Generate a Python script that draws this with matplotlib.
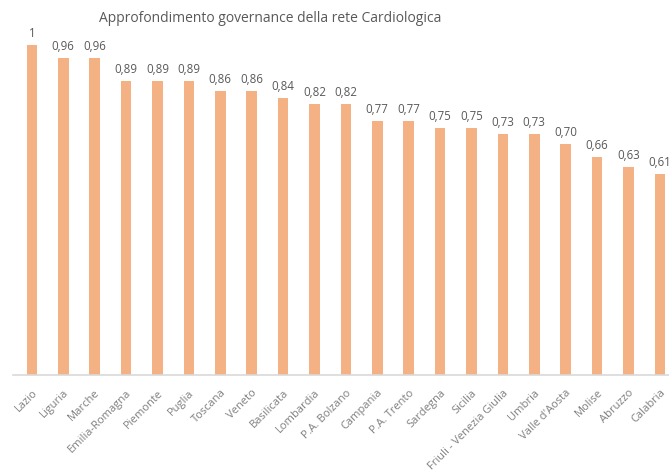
import matplotlib.pyplot as plt

regioni = ['Lazio', 'Liguria', 'Marche', 'Emilia-Romagna', 'Piemonte', 'Puglia',
           'Toscana', 'Veneto', 'Basilicata', 'Lombardia', 'P.A. Bolzano',
           'Campania', 'P.A. Trento', 'Sardegna', 'Sicilia',
           'Friuli - Venezia Giulia', 'Umbria', "Valle d'Aosta", 'Molise',
           'Abruzzo', 'Calabria']
valori = [1, 0.96, 0.96, 0.89, 0.89, 0.89, 0.86, 0.86, 0.84, 0.82, 0.82,
          0.77, 0.77, 0.75, 0.75, 0.73, 0.73, 0.70, 0.66, 0.63, 0.61]
etichette = ['1', '0,96', '0,96', '0,89', '0,89', '0,89', '0,86', '0,86', '0,84',
             '0,82', '0,82', '0,77', '0,77', '0,75', '0,75', '0,73', '0,73',
             '0,70', '0,66', '0,63', '0,61']

plt.rcParams['font.family'] = ['Open Sans', 'DejaVu Sans']
grigio = '#595959'

fig = plt.figure(figsize=(6.69, 4.71), dpi=100)
ax = fig.add_axes([13 / 669, 96 / 471, 656 / 669, 363 / 471])

x = range(len(regioni))
ax.bar(x, valori, width=0.34, color='#F4B183')
for xi, v, t in zip(x, valori, etichette):
    ax.text(xi, v + 0.015, t, ha='center', va='bottom', fontsize=8.3,
            color=grigio, clip_on=False)

ax.set_xlim(-0.6, 20.29)
ax.set_ylim(0, 1.1)
ax.set_xticks(list(x))
ax.set_xticklabels(regioni, rotation=45, ha='right', rotation_mode='anchor',
                   fontsize=8.0, color='#7F7F7F')
ax.tick_params(axis='x', length=0, pad=9)
ax.set_yticks([])
for s in ['top', 'right', 'left']:
    ax.spines[s].set_visible(False)
ax.spines['bottom'].set_color('#D9D9D9')
ax.spines['bottom'].set_linewidth(1.2)

fig.text(270 / 669, 1 - 18 / 471, 'Approfondimento governance della rete Cardiologica',
         ha='center', va='center', fontsize=10, color=grigio)

fig.savefig('out.png', dpi=100)
